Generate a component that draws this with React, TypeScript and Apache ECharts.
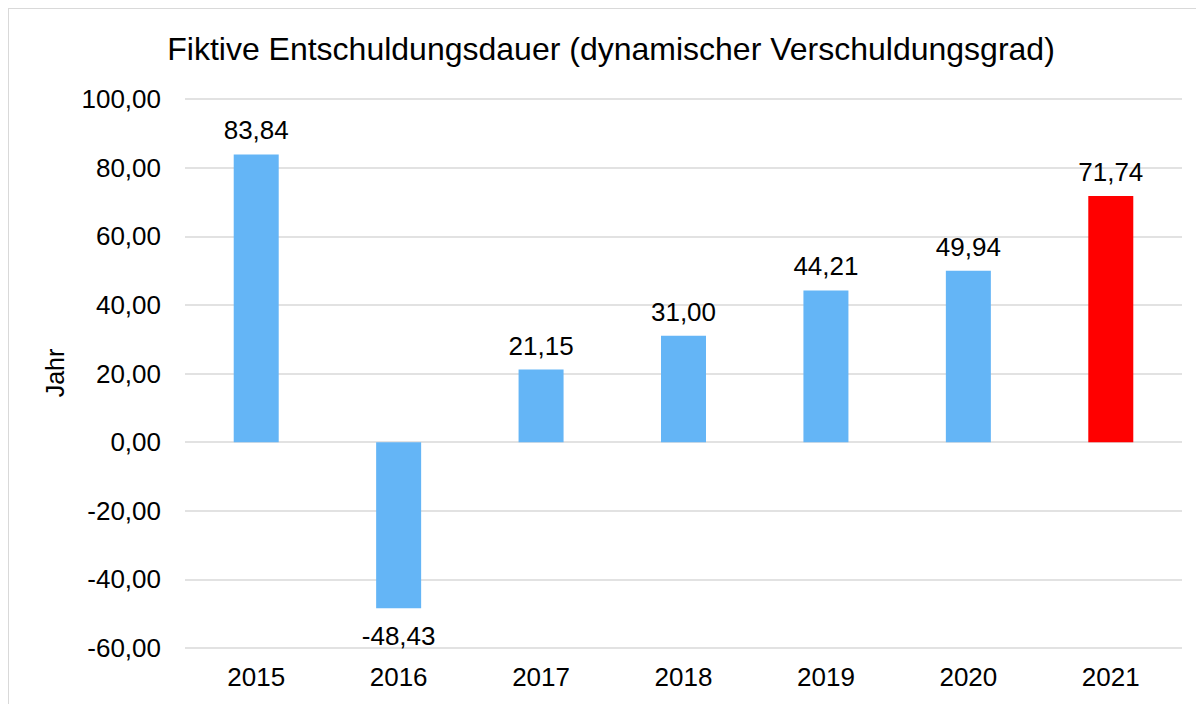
import React, { useEffect, useRef } from "react";
import * as echarts from "echarts";

const categories = ["2015", "2016", "2017", "2018", "2019", "2020", "2021"];
const values = [83.84, -48.43, 21.15, 31.0, 44.21, 49.94, 71.74];
const barColors = ["#64B5F6", "#64B5F6", "#64B5F6", "#64B5F6", "#64B5F6", "#64B5F6", "#FF0000"];
const titleText = "Fiktive Entschuldungsdauer (dynamischer Verschuldungsgrad)";
const yAxisName = "Jahr";

const fmt = (v: number) => v.toFixed(2).replace(".", ",");
const FONT = "Liberation Sans, Arial, sans-serif";

export default function App() {
  const ref = useRef<HTMLDivElement>(null);
  useEffect(() => {
    if (!ref.current) return;
    const chart = echarts.init(ref.current, null, { renderer: "svg" });
    chart.setOption({
      animation: false,
      backgroundColor: "#fff",
      title: {
        text: titleText,
        left: 597,
        top: 19,
        textAlign: "center",
        textStyle: { fontFamily: FONT, fontSize: 32, fontWeight: "normal", color: "#000" },
      },
      graphic: [
        {
          type: "text",
          x: 46,
          y: 364,
          rotation: Math.PI / 2,
          style: {
            text: yAxisName,
            fontFamily: FONT,
            fontSize: 25,
            fill: "#000",
            align: "center",
            verticalAlign: "middle",
          },
        },
      ],
      grid: { left: 176, right: 22, top: 90, bottom: 56, containLabel: false },
      xAxis: {
        type: "category",
        data: categories,
        position: "bottom",
        axisLine: { show: false },
        axisTick: { show: false },
        axisLabel: { fontFamily: FONT, fontSize: 26, color: "#000", margin: 16 },
      },
      yAxis: {
        type: "value",
        min: -60,
        max: 100,
        interval: 20,
        axisLine: { show: false },
        axisTick: { show: false },
        splitLine: { lineStyle: { color: "#D9D9D9", width: 1.5 } },
        axisLabel: {
          fontFamily: FONT,
          fontSize: 26,
          color: "#000",
          margin: 24,
          formatter: (v: number) => fmt(v),
        },
      },
      series: [
        {
          type: "bar",
          barWidth: 45,
          data: values.map((v, i) => ({
            value: v,
            itemStyle: { color: barColors[i] },
            label: { position: v < 0 ? "bottom" : "top", distance: v < 0 ? 15 : 11 },
          })),
          label: {
            show: true,
            fontFamily: FONT,
            fontSize: 26,
            color: "#000",
            formatter: (p: any) => fmt(p.value),
          },
        },
      ],
    });
    return () => chart.dispose();
  }, []);
  return (
    <div style={{ borderLeft: "1px solid #D9D9D9", borderTop: "1px solid #D9D9D9", width: 1195, height: 695 }}>
      <div ref={ref} style={{ width: 1195, height: 695 }} />
    </div>
  );
}
